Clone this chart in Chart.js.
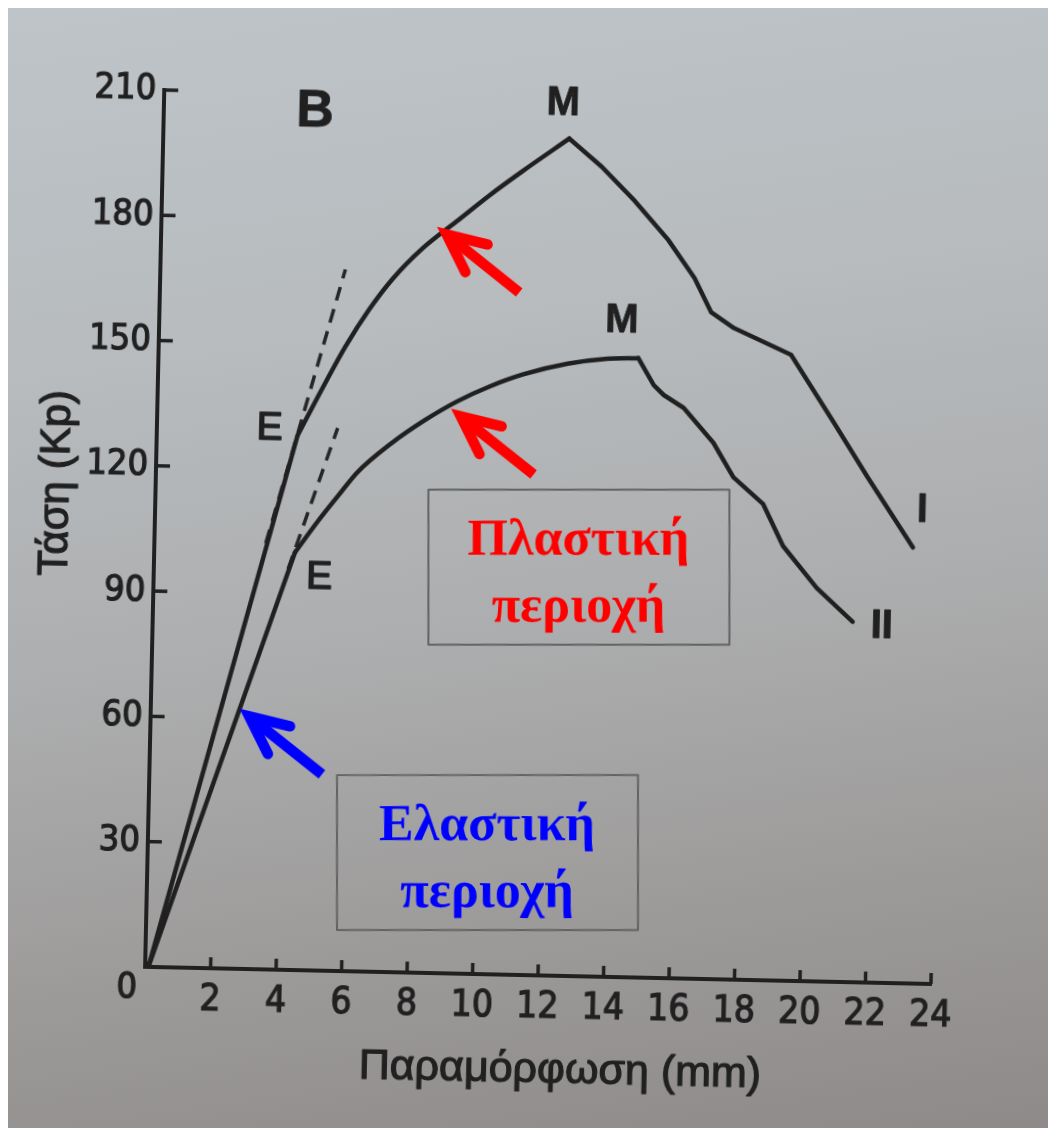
<!DOCTYPE html>
<html>
<head>
<meta charset="utf-8">
<script src="https://cdn.jsdelivr.net/npm/chart.js@4.4.1/dist/chart.umd.min.js"></script>
<style>
html,body{margin:0;padding:0;width:1048px;height:1128px;overflow:hidden;background:#ffffff;}
#paper{position:absolute;left:8px;top:8px;width:1040px;height:1120px;
  background:linear-gradient(172deg,#bec4c8 0%,#b7bbbe 30%,#acadae 55%,#9d9b9a 78%,#8d8a89 100%);}
#wrap{position:absolute;left:0;top:0;width:1048px;height:1128px;transform:rotate(1.25deg);transform-origin:524px 564px;}
canvas{display:block;}
</style>
</head>
<body>
<div id="paper"></div>
<div id="wrap"><canvas id="c" width="1048" height="1128"></canvas></div>
<script>
// ---------- data ----------
const xTicks = [0, 2, 4, 6, 8, 10, 12, 14, 16, 18, 20, 22, 24];
const yTicks = [0, 30, 60, 90, 120, 150, 180, 210];

// Curve I (upper)
const curveI_elasticX = [0.1, 4.3];
const curveI_elasticY = [0, 128];
const curveI_plasticX = [4.3, 5.0, 5.7, 6.4, 7.1, 8.0, 9.0, 10.0, 11.0, 12.4];
const curveI_plasticY = [128, 139, 149.5, 158.5, 166, 173.5, 180, 186.5, 192.5, 200.5];
const curveI_failureX = [12.4, 13.41, 14.44, 15.49, 16.31, 16.84, 17.55, 19.31, 20.66, 21.72, 23.16];
const curveI_failureY = [200.5, 193.9, 185.9, 176.7, 167.8, 159.7, 156.0, 149.9, 133.9, 121.1, 104.4];

// Curve II (lower)
const curveII_elasticX = [0.1, 4.3];
const curveII_elasticY = [0, 100];
const curveII_plasticX = [4.3, 4.96, 5.6, 6.15, 7.15, 8.15, 9.15, 10.15, 11.15, 12.5, 13.7, 14.65];
const curveII_plasticY = [100, 107.4, 114, 119.5, 126.5, 132.2, 137, 140.8, 143.8, 146.6, 148, 148.3];
const curveII_failureX = [14.65, 15.14, 15.45, 16.07, 17.0, 17.63, 18.56, 19.19, 20.25, 21.37];
const curveII_failureY = [148.3, 141.9, 139.6, 136.6, 128.4, 120.3, 114.0, 104.1, 94.2, 86.3];

// Dashed tangents (extension of elastic lines)
const tangentI_X = [3.4, 5.65];
const tangentI_Y = [102, 168];
const tangentII_X = [4.1, 5.52];
const tangentII_Y = [96, 130];

// Point labels in the figure
const markLabels = ['B', 'M', 'M', 'E', 'E', 'I', 'II'];
const markX = [4.62, 12.19, 14.13, 3.44, 5.05, 23.42, 22.26];
const markY = [205.6, 208.7, 157.1, 129.6, 94.0, 113.3, 85.2];

// Annotation boxes and arrows
const regionText = [['Πλαστική', 'περιοχή'], ['Ελαστική', 'περιοχή']];
const regionBoxX = [8.33, 5.73];
const regionBoxY = [115.7, 46.9];
const arrowTipX = [8.72, 9.27, 3.01];
const arrowTipY = [176.9, 133.4, 60.5];
const arrowTailX = [10.97, 11.53, 5.27];
const arrowTailY = [163.4, 119.9, 47.0];

const xTitle = 'Παραμόρφωση (mm)';
const yTitle = 'Τάση (Kp)';

// ---------- style ----------
const TILT = 1.25;
const INK = '#202020';
const SANS = '"Liberation Sans", Arial, sans-serif';
const NARROW = '"Liberation Sans Narrow", "Arial Narrow", "DejaVu Sans Condensed", sans-serif';
const SERIF = '"Liberation Serif", "Times New Roman", serif';

const zip = (xs, ys) => xs.map((v, i) => ({x: v, y: ys[i]}));
const solid = (xs, ys, mono) => ({
  data: zip(xs, ys), showLine: true, pointRadius: 0, borderColor: INK, borderWidth: 4.5,
  borderCapStyle: 'round', borderJoinStyle: 'round',
  tension: 0, cubicInterpolationMode: mono ? 'monotone' : 'default'
});
const dashed = (xs, ys) => ({
  data: zip(xs, ys), showLine: true, pointRadius: 0, borderColor: '#262626', borderWidth: 3.5,
  borderDash: [14, 9]
});

function inkText(ctx, t, px, py, sw) {
  ctx.lineWidth = sw; ctx.strokeStyle = INK;
  ctx.strokeText(t, px, py);
  ctx.fillText(t, px, py);
}

const annot = {
  id: 'annot',
  afterDatasetsDraw(chart) {
    const {ctx, chartArea: a, scales: {x, y}} = chart;
    ctx.save();
    // inward tick marks
    ctx.strokeStyle = INK; ctx.lineWidth = 3.5; ctx.lineCap = 'butt';
    xTicks.forEach(v => { if (v === 0) return; const p = x.getPixelForValue(v);
      ctx.beginPath(); ctx.moveTo(p, a.bottom); ctx.lineTo(p, a.bottom - 11); ctx.stroke(); });
    yTicks.forEach(v => { if (v === 0) return; const p = y.getPixelForValue(v);
      ctx.beginPath(); ctx.moveTo(a.left, p); ctx.lineTo(a.left + 14, p); ctx.stroke(); });

    ctx.fillStyle = INK; ctx.textAlign = 'center'; ctx.textBaseline = 'middle';
    ctx.lineJoin = 'round';
    // origin "0"
    ctx.font = '36px ' + NARROW;
    inkText(ctx, '0', a.left - 18, a.bottom + 22, 1.2);
    // figure labels
    markLabels.forEach((t, i) => {
      const big = t === 'B';
      const isE = t === 'E';
      ctx.font = (big ? 'bold 52px ' : isE ? '39px ' : 'bold 40px ') + SANS;
      inkText(ctx, t, x.getPixelForValue(markX[i]), y.getPixelForValue(markY[i]), isE ? 1.6 : 0.8);
    });
    // axis titles
    ctx.font = '43px ' + SANS;
    inkText(ctx, xTitle, x.getPixelForValue(12.73), a.bottom + 95, 1.2);
    ctx.save();
    ctx.translate(a.left - 99, y.getPixelForValue(115.4));
    ctx.rotate(-Math.PI / 2);
    ctx.font = '42px ' + SANS;
    inkText(ctx, yTitle, 0, 0, 1.2);
    ctx.restore();

    // region boxes (kept upright on screen)
    const colors = ['#ff0000', '#0000ff'];
    regionText.forEach((lines, i) => {
      ctx.save();
      ctx.translate(x.getPixelForValue(regionBoxX[i]), y.getPixelForValue(regionBoxY[i]));
      ctx.rotate(-TILT * Math.PI / 180);
      ctx.strokeStyle = '#626262'; ctx.lineWidth = 2;
      ctx.strokeRect(0, 0, 301, 155);
      ctx.fillStyle = colors[i];
      ctx.font = 'bold 52px ' + SERIF;
      ctx.textAlign = 'center'; ctx.textBaseline = 'alphabetic';
      ctx.fillText(lines[0], 150, 65);
      ctx.fillText(lines[1], 150, 132);
      ctx.restore();
    });

    // arrows
    const acol = ['#ff0000', '#ff0000', '#0000ff'];
    arrowTipX.forEach((_, i) => {
      const tx = x.getPixelForValue(arrowTipX[i]), ty = y.getPixelForValue(arrowTipY[i]);
      const sx = x.getPixelForValue(arrowTailX[i]), sy = y.getPixelForValue(arrowTailY[i]);
      const ang = Math.atan2(sy - ty, sx - tx);
      const L = 42, sp = 25 * Math.PI / 180;
      ctx.strokeStyle = acol[i]; ctx.lineWidth = 10.5;
      ctx.lineCap = 'butt';
      ctx.beginPath(); ctx.moveTo(sx, sy); ctx.lineTo(tx + 6 * Math.cos(ang), ty + 6 * Math.sin(ang)); ctx.stroke();
      ctx.lineCap = 'round'; ctx.lineJoin = 'miter';
      ctx.beginPath();
      ctx.moveTo(tx + L * Math.cos(ang - sp), ty + L * Math.sin(ang - sp));
      ctx.lineTo(tx, ty);
      ctx.lineTo(tx + L * Math.cos(ang + sp), ty + L * Math.sin(ang + sp));
      ctx.stroke();
    });
    ctx.restore();
  }
};

new Chart(document.getElementById('c'), {
  type: 'scatter',
  data: {
    datasets: [
      solid(curveI_elasticX, curveI_elasticY, false),
      solid(curveI_plasticX, curveI_plasticY, true),
      solid(curveI_failureX, curveI_failureY, false),
      solid(curveII_elasticX, curveII_elasticY, false),
      solid(curveII_plasticX, curveII_plasticY, true),
      solid(curveII_failureX, curveII_failureY, false),
      dashed(tangentI_X, tangentI_Y),
      dashed(tangentII_X, tangentII_Y)
    ]
  },
  options: {
    responsive: false,
    devicePixelRatio: 1,
    animation: false,
    layout: {padding: {left: 0, right: 108, top: 98, bottom: 0}},
    plugins: {legend: {display: false}, tooltip: {enabled: false}, title: {display: false}},
    scales: {
      x: {
        type: 'linear', min: 0, max: 24,
        afterBuildTicks: s => { s.ticks = xTicks.map(v => ({value: v})); },
        afterFit: s => { s.height = 153; },
        ticks: {callback: v => (v === 0 ? '' : String(v)), font: {family: NARROW, size: 37},
          color: INK, textStrokeColor: INK, textStrokeWidth: 1.2,
          padding: 10, maxRotation: 0, autoSkip: false},
        grid: {display: false, drawTicks: false},
        border: {display: true, color: INK, width: 4}
      },
      y: {
        type: 'linear', min: 0, max: 210,
        afterBuildTicks: s => { s.ticks = yTicks.map(v => ({value: v})); },
        afterFit: s => { s.width = 154; },
        ticks: {callback: v => (v === 0 ? '' : String(v)), font: {family: NARROW, size: 36},
          color: INK, textStrokeColor: INK, textStrokeWidth: 1.2,
          padding: 8, autoSkip: false},
        grid: {display: false, drawTicks: false},
        border: {display: true, color: INK, width: 4}
      }
    }
  },
  plugins: [annot]
});
</script>
</body>
</html>
